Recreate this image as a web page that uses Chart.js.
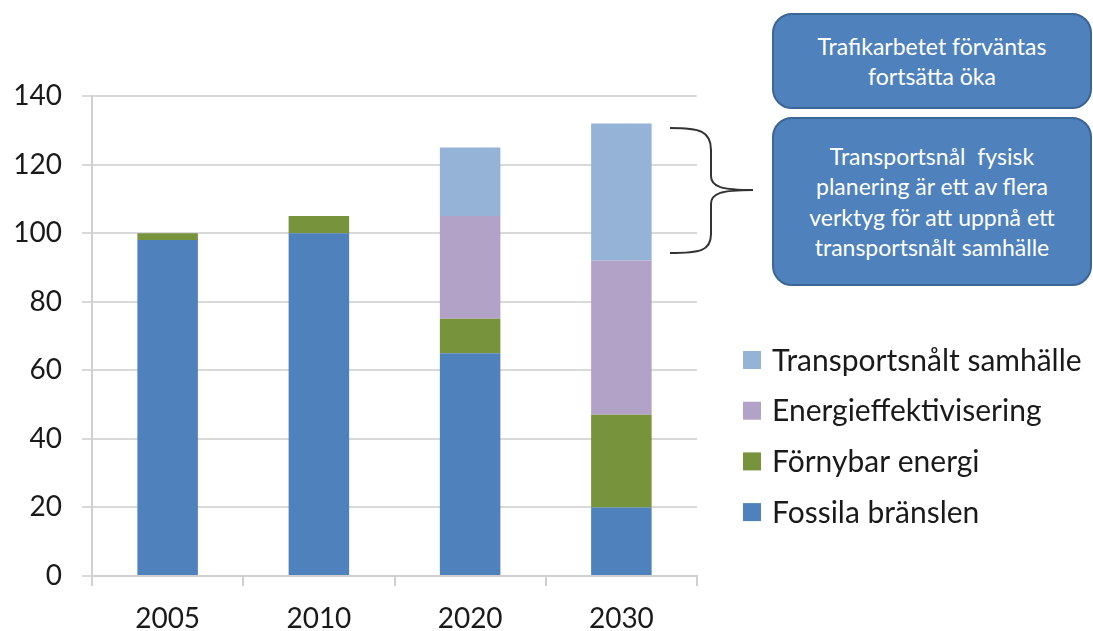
<!DOCTYPE html>
<html>
<head>
<meta charset="utf-8">
<script src="https://cdn.jsdelivr.net/npm/chart.js@4/dist/chart.umd.min.js"></script>
<style>
  html, body { margin: 0; padding: 0; background: #fff; }
  #wrap { position: relative; width: 1093px; height: 631px; overflow: hidden; }
  #c { position: absolute; left: 0; top: 0; }
  .box {
    position: absolute; box-sizing: border-box;
    background: #4F81BD; border: 2px solid #3A6594; border-radius: 20px;
    color: #fff; font-family: Lato, "Open Sans", sans-serif;
    display: flex; align-items: center; justify-content: center; text-align: center;
  }
  #brace { position: absolute; left: 0; top: 0; }
</style>
</head>
<body>
<div id="wrap">
  <canvas id="c" width="1093" height="631"></canvas>
  <svg id="brace" width="1093" height="631">
    <path d="M670,128 C700,128 711,131 711,150 L711,176 C711,187 722,190 753,190 C722,190 711,193 711,204 L711,234 C711,251 700,253 670,253" fill="none" stroke="#333" stroke-width="2"/>
  </svg>
  <div class="box" style="left:772px; top:13px; width:320px; height:96px; font-size:23px; line-height:30px;">Trafikarbetet förväntas<br>fortsätta öka</div>
  <div class="box" style="left:772px; top:117px; width:320px; height:169px; font-size:23px; line-height:30.5px;">Transportsnål&nbsp; fysisk<br>planering är ett av flera<br>verktyg för att uppnå ett<br>transportsnålt samhälle</div>
</div>
<script>
const categories = ['2005', '2010', '2020', '2030'];
const seriesNames = ['Fossila bränslen', 'Förnybar energi', 'Energieffektivisering', 'Transportsnålt samhälle'];
const fossila = [98, 100, 65, 20];
const fornybar = [2, 5, 10, 27];
const energi = [0, 0, 30, 45];
const transport = [0, 0, 20, 40];
const seriesColors = ['#4F81BD', '#77933C', '#B3A2C7', '#95B3D7'];

const seriesValues = [fossila, fornybar, energi, transport];

const FONT = 'Lato, "Open Sans", sans-serif';

const legendPlugin = {
  id: 'customLegend',
  afterDraw(chart) {
    const ctx = chart.ctx;
    ctx.save();
    ctx.font = '30px ' + FONT;
    ctx.textBaseline = 'middle';
    ctx.textAlign = 'left';
    const ds = chart.data.datasets;
    const startY = 360, gap = 50.7;
    let row = 0;
    for (let i = ds.length - 1; i >= 0; i--) {
      const y = startY + row * gap;
      ctx.fillStyle = ds[i].backgroundColor;
      ctx.fillRect(743, y - 9, 18, 18);
      ctx.fillStyle = '#1a1a1a';
      ctx.fillText(ds[i].label, 772, y + 1);
      row++;
    }
    ctx.restore();
  }
};

new Chart(document.getElementById('c'), {
  type: 'bar',
  data: {
    labels: categories,
    datasets: seriesNames.map((name, i) => ({
      label: name,
      data: seriesValues[i],
      backgroundColor: seriesColors[i],
      borderWidth: 0,
      categoryPercentage: 1,
      barPercentage: 0.40
    }))
  },
  options: {
    responsive: false,
    animation: false,
    layout: { padding: { left: 13, right: 396, top: 96, bottom: 0 } },
    plugins: { legend: { display: false }, tooltip: { enabled: false } },
    scales: {
      x: {
        stacked: true,
        afterFit(scale) { scale.height = 55; },
        grid: { drawOnChartArea: false, drawTicks: true, tickLength: 10, color: '#d0d0d0', lineWidth: 2 },
        border: { display: true, color: '#d0d0d0', width: 2 },
        ticks: { color: '#1a1a1a', font: { family: FONT, size: 28 }, padding: 16 }
      },
      y: {
        stacked: true,
        min: 0, max: 140,
        afterFit(scale) { scale.width = 79; },
        grid: { color: '#d9d9d9', lineWidth: 2, tickLength: 10 },
        border: { display: true, color: '#d0d0d0', width: 2 },
        ticks: { stepSize: 20, color: '#1a1a1a', font: { family: FONT, size: 28 }, padding: 20 }
      }
    }
  },
  plugins: [legendPlugin]
});
</script>
</body>
</html>
